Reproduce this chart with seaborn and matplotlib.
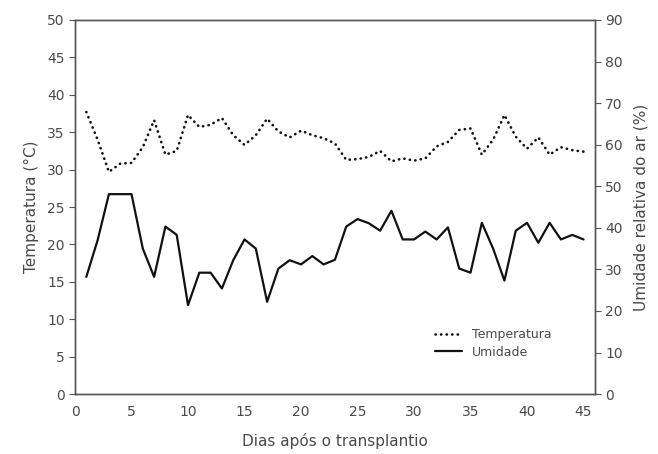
import numpy as np
import pandas as pd
import matplotlib
matplotlib.use('Agg')
import matplotlib.pyplot as plt
import seaborn as sns

# dias apos o transplantio
dias = list(range(1, 46))

temperatura = [37.7, 34.0, 29.7, 30.8, 30.9, 33.0, 36.6, 32.0, 32.5, 37.3,
               35.7, 36.0, 36.9, 34.6, 33.3, 34.6, 36.8, 35.1, 34.3, 35.2,
               34.6, 34.2, 33.5, 31.3, 31.4, 31.7, 32.5, 31.1, 31.5, 31.2,
               31.5, 33.1, 33.7, 35.3, 35.5, 32.0, 34.0, 37.3, 34.4, 32.8,
               34.3, 32.0, 33.0, 32.6, 32.4]

umidade = [28.2, 37.0, 48.1, 48.1, 48.1, 35.0, 28.2, 40.3, 38.3, 21.4,
           29.2, 29.2, 25.4, 32.2, 37.2, 35.0, 22.2, 30.2, 32.2, 31.2,
           33.2, 31.2, 32.3, 40.3, 42.1, 41.1, 39.3, 44.1, 37.2, 37.2,
           39.1, 37.2, 40.1, 30.2, 29.2, 41.2, 35.0, 27.3, 39.3, 41.2,
           36.4, 41.2, 37.2, 38.3, 37.2]

x_ticks = list(range(0, 50, 5))
left_ticks = list(range(0, 55, 5))
right_ticks = list(range(0, 100, 10))

df = pd.DataFrame({'dia': dias, 'temp': temperatura, 'ur': umidade})

sns.set_style('white')
plt.rcParams['font.family'] = ['DejaVu Sans']
txt = '#4a4a4a'
spine = '#555555'

fig = plt.figure(figsize=(6.58, 4.54), dpi=100)
ax = fig.add_axes([0.114, 0.132, 0.79, 0.824])
ax2 = ax.twinx()

sns.lineplot(data=df, x='dia', y='temp', ax=ax, color='#111111',
             linewidth=1.9, linestyle=(0, (0.1, 2.0)), label='Temperatura',
             legend=False)
ax.lines[-1].set_dash_capstyle('round')
sns.lineplot(data=df, x='dia', y='ur', ax=ax2, color='#111111',
             linewidth=1.6, label='Umidade', legend=False)

ax.set_xlim(0, 46)
ax.set_ylim(0, 50)
ax2.set_ylim(0, 90)
ax.set_xticks(x_ticks)
ax.set_yticks(left_ticks)
ax2.set_yticks(right_ticks)

ax.set_xlabel('Dias após o transplantio', fontsize=11, color=txt, labelpad=10)
ax.set_ylabel('Temperatura (°C)', fontsize=11, color=txt, labelpad=6)
ax2.set_ylabel('Umidade relativa do ar (%)', fontsize=11, color=txt, labelpad=8)

ax.tick_params(axis='x', direction='in', length=4, colors=spine,
               labelcolor=txt, labelsize=10, pad=8)
ax.tick_params(axis='y', direction='out', length=4, colors=spine,
               labelcolor=txt, labelsize=10, left=True)
ax2.tick_params(axis='y', direction='out', length=4, colors=spine,
                labelcolor=txt, labelsize=10, right=True)

for a in (ax, ax2):
    for s in a.spines.values():
        s.set_color(spine)
        s.set_linewidth(1.0)

h1, l1 = ax.get_legend_handles_labels()
h2, l2 = ax2.get_legend_handles_labels()
leg = ax.legend(h1 + h2, l1 + l2, loc='center left', bbox_to_anchor=(0.67, 0.135),
                frameon=False, fontsize=9, handlelength=2.2, labelspacing=0.35)
for t in leg.get_texts():
    t.set_color(txt)

fig.savefig('out.png', dpi=100)
